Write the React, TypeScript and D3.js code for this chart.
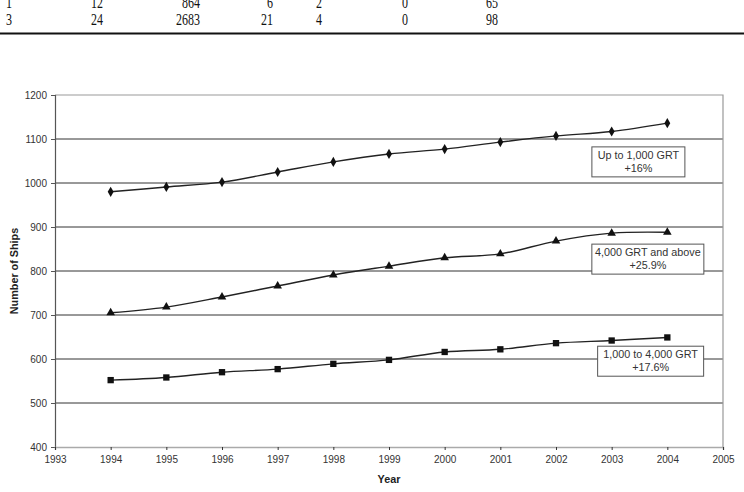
import React, { useEffect, useRef } from 'react';
import * as d3 from 'd3';

// table fragment above the chart
const tableRows = [
  ['1', '12', '864', '6', '2', '0', '65'],
  ['3', '24', '2683', '21', '4', '0', '98'],
];
const tableColRight = [12, 103, 200, 273, 322, 408, 498];

// fleet size by tonnage class
const years = [1994, 1995, 1996, 1997, 1998, 1999, 2000, 2001, 2002, 2003, 2004];
const upTo1000 = [980, 991, 1002, 1025, 1048, 1066, 1077, 1093, 1107, 1117, 1136];
const above4000 = [705, 718, 741, 766, 791, 811, 830, 839, 868, 886, 888];
const from1000to4000 = [552, 558, 570, 577, 589, 598, 616, 622, 636, 642, 649];

const yTicks = [400, 500, 600, 700, 800, 900, 1000, 1100, 1200];
const xTicks = d3.range(1993, 2006);

const seriesLabels = [
  { lines: ['Up to 1,000 GRT', '+16%'], year: 2003.48, value: 1048, w: 93 },
  { lines: ['4,000 GRT and above', '+25.9%'], year: 2003.65, value: 827, w: 112 },
  { lines: ['1,000 to 4,000 GRT', '+17.6%'], year: 2003.7, value: 595, w: 106 },
];

const App = () => {
  const ref = useRef<SVGSVGElement>(null);

  useEffect(() => {
    const svg = d3.select(ref.current);
    svg.selectAll('*').remove();

    // table
    const table = svg.append('g').attr('font-family', '"Liberation Serif", serif').attr('fill', '#111');
    tableRows.forEach((row, i) => {
      row.forEach((cell, j) => {
        table
          .append('text')
          .attr('transform', `translate(${tableColRight[j]},${7.5 + i * 17.7}) scale(1,1.45)`)
          .attr('text-anchor', 'end')
          .attr('font-size', 12)
          .text(cell);
      });
    });
    svg.append('line').attr('x1', 0).attr('x2', 744).attr('y1', 33.5).attr('y2', 33.5)
      .attr('stroke', '#111').attr('stroke-width', 2);

    const margin = { left: 55, right: 723, top: 95, bottom: 447 };
    const x = d3.scaleLinear().domain([1993, 2005]).range([margin.left, margin.right]);
    const y = d3.scaleLinear().domain([400, 1200]).range([margin.bottom, margin.top]);

    const font = 'Arial, "Liberation Sans", sans-serif';

    // gridlines
    svg.append('g')
      .selectAll('line')
      .data(yTicks.filter((t) => t > 400 && t < 1200))
      .enter()
      .append('line')
      .attr('x1', margin.left)
      .attr('x2', margin.right)
      .attr('y1', (d) => y(d))
      .attr('y2', (d) => y(d))
      .attr('stroke', '#333')
      .attr('stroke-width', 1);

    // plot frame (top and right)
    svg.append('path')
      .attr('d', `M${margin.left},${margin.top}H${margin.right}V${margin.bottom}`)
      .attr('fill', 'none')
      .attr('stroke', '#999')
      .attr('stroke-width', 1.2);

    // y axis
    const yAxis = svg.append('g')
      .attr('transform', `translate(${margin.left},0)`)
      .call(d3.axisLeft(y).tickValues(yTicks).tickSize(4).tickPadding(4).tickFormat(d3.format('d')));
    yAxis.select('.domain').attr('stroke', '#555').attr('stroke-width', 1.2);
    yAxis.selectAll('.tick line').attr('stroke', '#555');
    yAxis.selectAll('text').attr('font-family', font).attr('font-size', 10).attr('fill', '#333');

    // x axis
    const xAxis = svg.append('g')
      .attr('transform', `translate(0,${margin.bottom})`)
      .call(d3.axisBottom(x).tickValues(xTicks).tickSize(3).tickPadding(6).tickFormat(d3.format('d')));
    xAxis.select('.domain').attr('stroke', '#aaa').attr('stroke-width', 1.5);
    xAxis.selectAll('.tick line').attr('stroke', '#333');
    xAxis.selectAll('text').attr('font-family', font).attr('font-size', 10).attr('fill', '#333');

    // axis titles
    svg.append('text')
      .attr('transform', `translate(18,271) rotate(-90)`)
      .attr('text-anchor', 'middle')
      .attr('font-family', font)
      .attr('font-size', 10.8)
      .attr('font-weight', 'bold')
      .attr('fill', '#222')
      .text('Number of Ships');
    svg.append('text')
      .attr('x', 389)
      .attr('y', 483)
      .attr('text-anchor', 'middle')
      .attr('font-family', font)
      .attr('font-size', 10.8)
      .attr('font-weight', 'bold')
      .attr('fill', '#222')
      .text('Year');

    const line = d3
      .line<number>()
      .x((_, i) => x(years[i]))
      .y((d) => y(d))
      .curve(d3.curveCatmullRom.alpha(0.5));

    const series = [
      { values: upTo1000, symbol: d3.symbolDiamond, size: 30 },
      { values: above4000, symbol: d3.symbolTriangle, size: 32 },
      { values: from1000to4000, symbol: d3.symbolSquare, size: 40 },
    ];

    series.forEach((s) => {
      svg.append('path')
        .datum(s.values)
        .attr('d', line)
        .attr('fill', 'none')
        .attr('stroke', '#222')
        .attr('stroke-width', 1.4);
      svg.append('g')
        .selectAll('path')
        .data(s.values)
        .enter()
        .append('path')
        .attr('transform', (d, i) => `translate(${x(years[i])},${y(d)})`)
        .attr('d', d3.symbol().type(s.symbol).size(s.size)())
        .attr('fill', '#111');
    });

    // series annotations
    seriesLabels.forEach((l) => {
      const cx = x(l.year);
      const cy = y(l.value);
      const g = svg.append('g').attr('transform', `translate(${cx},${cy})`);
      g.append('rect')
        .attr('x', -l.w / 2)
        .attr('y', -15)
        .attr('width', l.w)
        .attr('height', 30)
        .attr('fill', '#fff')
        .attr('stroke', '#555')
        .attr('stroke-width', 1);
      l.lines.forEach((t, i) => {
        g.append('text')
          .attr('y', -3 + i * 13)
          .attr('text-anchor', 'middle')
          .attr('font-family', font)
          .attr('font-size', 10.8)
          .attr('fill', '#333')
          .text(t);
      });
    });
  }, []);

  return (
    <svg
      ref={ref}
      width={744}
      height={492}
      style={{ position: 'absolute', left: 0, top: 0, background: '#fff' }}
    />
  );
};

export default App;
